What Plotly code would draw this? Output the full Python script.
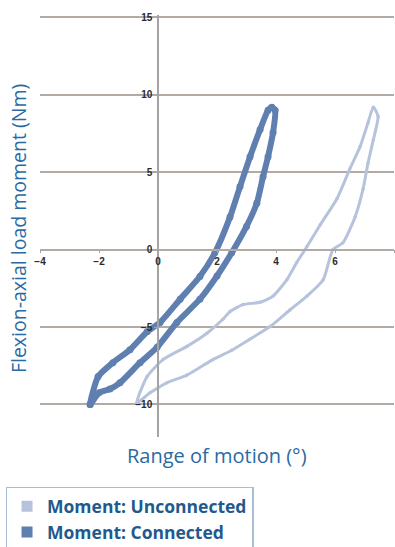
import plotly.graph_objects as go

# ── 顏色 ─────────────────────────────────────────────
CONN_COLOR = "#5f7fb0"
UNCONN_COLOR = "#b7c3dc"
GRID_COLOR = "#b4aaa4"
AXIS_COLOR = "#a4a4a4"
TITLE_COLOR = "#2a6aa3"
LEGEND_TEXT = "#1f5a8e"

# ── 資料──────────────────────────────────────────
conn_x = [-2.30, -2.03, -1.53, -0.95, -0.37, 0.07, 0.75, 1.42, 1.93, 2.44, 2.78,
          3.12, 3.46, 3.73, 3.86, 3.97, 3.90, 3.73, 3.56, 3.35, 3.00, 2.50,
          2.00, 1.42, 0.64, -0.03, -0.61, -1.29, -1.63, -2.00, -2.30]
conn_y = [-10.0, -8.2, -7.3, -6.46, -5.3, -4.7, -3.2, -1.74, -0.2, 2.1, 4.07,
          6.0, 7.75, 9.0, 9.2, 9.0, 7.56, 6.0, 4.7, 3.0, 1.5, -0.2,
          -1.7, -3.2, -4.7, -6.3, -7.3, -8.6, -9.0, -9.25, -10.0]

unconn_x = [-0.72, -0.37, 0.17, 0.98, 1.66, 2.20, 2.44, 2.88, 3.46, 3.90, 4.37,
            4.70, 5.05, 5.50, 6.07, 6.50, 6.85, 7.12, 7.30, 7.46, 7.30, 7.12,
            6.95, 6.68, 6.27, 5.93, 5.60, 5.05, 4.47, 3.80, 3.10, 2.50, 1.86,
            0.98, 0.30, -0.27, -0.72]
unconn_y = [-9.9, -8.2, -7.1, -6.25, -5.4, -4.5, -4.0, -3.55, -3.4, -3.0, -1.94,
            -0.84, 0.2, 1.6, 3.3, 5.2, 6.65, 8.2, 9.2, 8.6, 7.1, 5.6,
            3.9, 2.1, 0.45, 0.0, -1.94, -3.0, -3.9, -4.97, -5.8, -6.5, -7.1,
            -8.1, -8.6, -9.25, -9.9]

series_names = ["Moment: Unconnected", "Moment: Connected"]

X_RANGE = [-4, 8]
Y_RANGE = [-12.1, 15.15]

fig = go.Figure()

fig.add_trace(go.Scatter(
    x=unconn_x, y=unconn_y, mode="lines+markers",
    line=dict(color=UNCONN_COLOR, width=3, shape="spline", smoothing=0.6),
    marker=dict(color=UNCONN_COLOR, size=3.5),
    showlegend=False, hoverinfo="skip",
))
fig.add_trace(go.Scatter(
    x=conn_x, y=conn_y, mode="lines+markers",
    line=dict(color=CONN_COLOR, width=6, shape="spline", smoothing=0.6),
    marker=dict(color=CONN_COLOR, size=7),
    showlegend=False, hoverinfo="skip",
))

# 圖例只放方塊
for name, color in zip(series_names, [UNCONN_COLOR, CONN_COLOR]):
    fig.add_trace(go.Scatter(
        x=[None], y=[None], mode="markers", name=name,
        marker=dict(symbol="square", size=11, color=color),
    ))

# 兩軸交於 0
x_pos = (0 - Y_RANGE[0]) / (Y_RANGE[1] - Y_RANGE[0])
y_pos = (0 - X_RANGE[0]) / (X_RANGE[1] - X_RANGE[0])

tick_font = dict(family="Liberation Sans, Arial, sans-serif", size=10,
                 color="#2b2b2b", weight="bold")

fig.update_layout(
    width=395, height=547,
    paper_bgcolor="white", plot_bgcolor="white",
    margin=dict(l=40, r=1, t=15, b=110, autoexpand=False),
    xaxis=dict(
        range=X_RANGE, dtick=2, tick0=0,
        anchor="free", position=x_pos,
        showgrid=False, zeroline=False,
        showline=True, linecolor=GRID_COLOR, linewidth=1.5,
        ticks="outside", ticklen=3, tickcolor=AXIS_COLOR,
        tickfont=tick_font, automargin=False,
    ),
    yaxis=dict(
        range=Y_RANGE, dtick=5, tick0=0,
        anchor="free", position=y_pos,
        showgrid=True, gridcolor=GRID_COLOR, gridwidth=1.5,
        zeroline=False,
        showline=True, linecolor=AXIS_COLOR, linewidth=1.5,
        ticks="outside", ticklen=3, tickcolor=AXIS_COLOR,
        tickfont=tick_font, automargin=False,
    ),
    legend=dict(
        xref="container", yref="container",
        x=0.014, y=0.11, xanchor="left", yanchor="top",
        bgcolor="white", bordercolor="#a9bdd9", borderwidth=1.5,
        font=dict(family="Open Sans, sans-serif", size=17.5, color=LEGEND_TEXT, weight="bold"),
        tracegroupgap=0,
    ),
    showlegend=True,
)

fig.add_annotation(
    text="Flexion-axial load moment (Nm)",
    xref="paper", yref="paper", x=-0.059, y=0.493,
    textangle=-90, showarrow=False, xanchor="center", yanchor="middle",
    font=dict(family="Open Sans, sans-serif", size=19.5, color=TITLE_COLOR),
)
fig.add_annotation(
    text="Range of motion (°)",
    xref="paper", yref="paper", x=0.5, y=-0.044,
    showarrow=False, xanchor="center", yanchor="middle",
    font=dict(family="Open Sans, sans-serif", size=20, color=TITLE_COLOR),
)

# 頁面預設 body margin 8px，拿掉讓圖貼齊視窗
fig.write_html(
    "out.html",
    config={"displayModeBar": False},
    post_script="document.body.style.margin='0';",
)
